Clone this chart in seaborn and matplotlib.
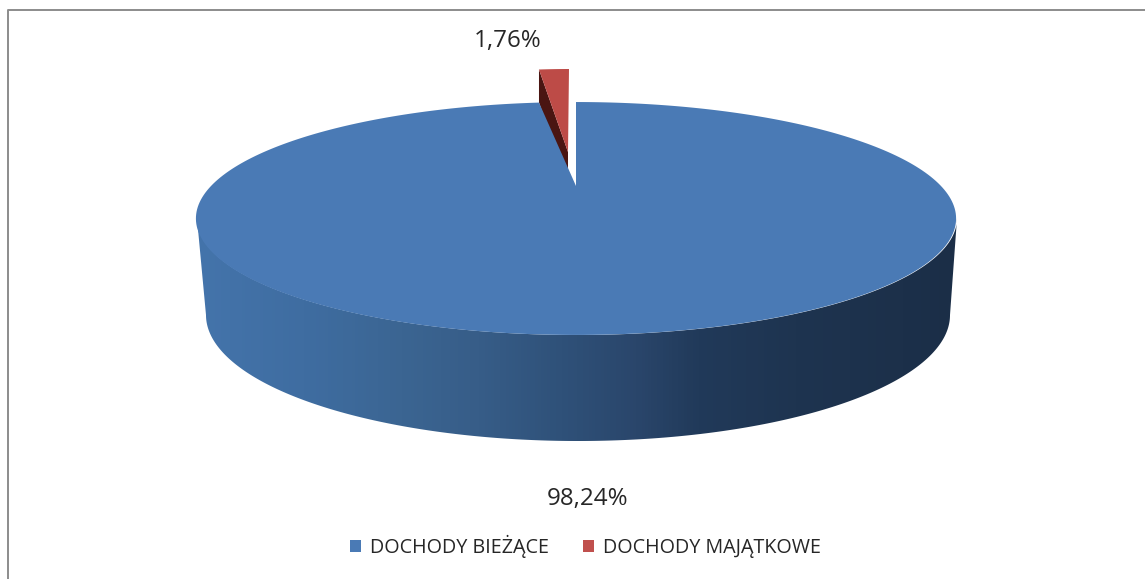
import numpy as np
import seaborn as sns
import matplotlib.pyplot as plt
from matplotlib.patches import Patch, Polygon
from matplotlib.colors import LinearSegmentedColormap

# Data
categories = ['DOCHODY BIEŻĄCE', 'DOCHODY MAJĄTKOWE']
shares = [98.24, 1.76]
share_labels = ['98,24%', '1,76%']

sns.set_theme(style='white')
plt.rcParams['font.family'] = ['Open Sans', 'DejaVu Sans']

colors = ['#4a7ab5', '#c0504d']
wall_stops = [(0.0, '#4474ab'), (0.14, '#3f6da1'), (0.27, '#3b6592'),
              (0.37, '#375d88'), (0.48, '#2f5179'), (0.58, '#2a466b'),
              (0.66, '#213a5a'), (0.79, '#1e3450'), (1.0, '#1b2e47')]
wall_cmap = LinearSegmentedColormap.from_list('wall', wall_stops)

fig = plt.figure(figsize=(11.45, 5.79), dpi=100)
ax = fig.add_axes([0, 0, 1, 1])

# the pie only gives the wedge angles, they get re-drawn in perspective below
wedges, _ = ax.pie(shares, colors=colors, startangle=90, counterclock=False)
angles = [(w.theta1, w.theta2) for w in wedges]
for w in wedges:
    w.remove()


def project(u, v):
    # unit circle to screen, the front of the pie is nearer to the viewer
    k = -0.279
    return 576 + 365 * u / (1 + k * v), 186 + 107.4 * v / (1 + k * v)


def arc(t1, t2, n=300):
    t = np.radians(np.linspace(t1, t2, n))
    return np.cos(t), -np.sin(t)


# side wall, a horizontal gradient clipped to the lower half of the disc
t = np.linspace(np.pi, 0, 400)
top_x = 577 + 380 * np.cos(t)
top_y = 218.5 + 116.5 * np.sin(t)
low_x = 578 + 372 * np.cos(t)
low_y = 315 + 126 * np.sin(t)
outline = np.column_stack([np.r_[top_x, low_x[::-1]], np.r_[top_y, low_y[::-1]]])
wall_clip = Polygon(outline, transform=ax.transData, facecolor='none', edgecolor='none')
ax.add_patch(wall_clip)
wall = ax.imshow(np.linspace(0, 1, 760).reshape(1, -1), cmap=wall_cmap, aspect='auto',
                 extent=(197, 957, 460, 200), zorder=2)
wall.set_clip_path(wall_clip)

# exploded small slice, wall first and then the top face
red_t1, red_t2 = angles[1]
u, v = arc(red_t1, red_t2, 30)
red_x = 569 + 272 * u
red_y = 152 + 83 * v
ax.add_patch(Polygon([(red_x[-1], red_y[-1]), (568, 152), (568, 185),
                      (red_x[-1], red_y[-1] + 33)],
                     facecolor='#4a1512', edgecolor='none', zorder=3))
ax.add_patch(Polygon(np.column_stack([np.r_[red_x, 568], np.r_[red_y, 152]]),
                     facecolor='#bd4b47', edgecolor='none', zorder=3.5))

# big slice, notch a bit wider than the share as in the picture
blue_t1, blue_t2 = angles[0]
u, v = arc(blue_t1 + 1.1, blue_t2)
x, y = project(np.r_[u, 0], np.r_[v, 0])
ax.add_patch(Polygon(np.column_stack([x, y]), facecolor=colors[0],
                     edgecolor='none', zorder=4))

# value labels
text_color = '#262626'
ax.text(588, 499, share_labels[0], ha='center', va='center', fontsize=17.4,
        color=text_color, zorder=5)
ax.text(508, 41, share_labels[1], ha='center', va='center', fontsize=17.4,
        color=text_color, zorder=5)

# chart frame, only left and top are inside the picture
ax.plot([8, 8, 1145], [579, 10, 10], color='#8c8c8c', linewidth=1.4, zorder=1)

ax.set_aspect('auto')
ax.set_xlim(0, 1145)
ax.set_ylim(579, 0)
ax.axis('off')

handles = [Patch(facecolor=c, edgecolor='none') for c in colors]
ax.legend(handles, categories, loc='center', bbox_to_anchor=(585.5 / 1145, 1 - 546 / 579),
          ncol=2, frameon=False, fontsize=14.2, handlelength=0.57, handleheight=0.57,
          handletextpad=0.45, columnspacing=1.75, labelcolor='#262626')

fig.savefig('out.png', dpi=100)
